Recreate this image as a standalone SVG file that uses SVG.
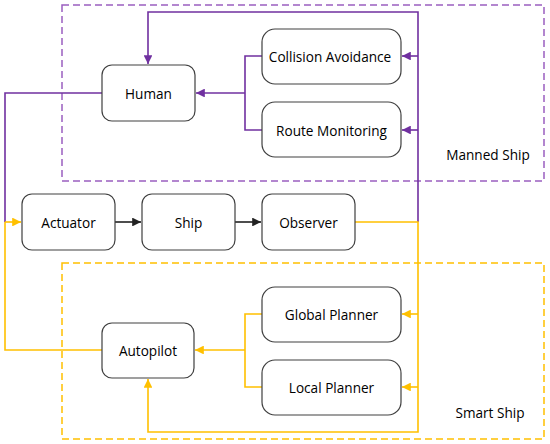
<svg xmlns="http://www.w3.org/2000/svg" width="550" height="444" viewBox="0 0 550 444">
<style>
.node rect{fill:#fff;stroke:#404040;stroke-width:1.2}
text{font-family:"Open Sans","Noto Sans",sans-serif;font-size:13.6px;fill:#000;text-anchor:middle;dominant-baseline:central}
.p{stroke:#7030A0;stroke-width:1.6;fill:none}
.y{stroke:#FFC000;stroke-width:1.6;fill:none}
.k{stroke:#222;stroke-width:1.6;fill:none}
</style>
<defs>
<marker id="ap" viewBox="0 0 10 10" refX="10" refY="5" markerWidth="5.5" markerHeight="5.5" orient="auto" markerUnits="strokeWidth"><path d="M0,0L10,5L0,10z" fill="#7030A0"/></marker>
<marker id="ay" viewBox="0 0 10 10" refX="10" refY="5" markerWidth="5.5" markerHeight="5.5" orient="auto" markerUnits="strokeWidth"><path d="M0,0L10,5L0,10z" fill="#FFC000"/></marker>
<marker id="ak" viewBox="0 0 10 10" refX="10" refY="5" markerWidth="5.5" markerHeight="5.5" orient="auto" markerUnits="strokeWidth"><path d="M0,0L10,5L0,10z" fill="#222"/></marker>
</defs>
<g id="manned-ship">
<rect x="62" y="5" width="482" height="176" fill="none" stroke="#9B5FC0" stroke-width="1.5" stroke-dasharray="7,4"/>
<text x="488" y="154">Manned Ship</text>
</g>
<g id="smart-ship">
<rect x="62" y="263" width="482" height="176" fill="none" stroke="#FFC000" stroke-width="1.5" stroke-dasharray="7,4"/>
<text x="490" y="412">Smart Ship</text>
</g>
<g id="connectors">
<path class="p" d="M418,222V12H148V64" marker-end="url(#ap)"/>
<path class="p" d="M418,56H402" marker-end="url(#ap)"/>
<path class="p" d="M418,130H402" marker-end="url(#ap)"/>
<path class="p" d="M262,56H245V130H262"/>
<path class="p" d="M245,93H196" marker-end="url(#ap)"/>
<path class="p" d="M102,93H5V222"/>
<path class="y" d="M5,222H21" marker-end="url(#ay)"/>
<path class="y" d="M102,350H5V222"/>
<path class="k" d="M115,222H141" marker-end="url(#ak)"/>
<path class="k" d="M235,222H261" marker-end="url(#ak)"/>
<path class="y" d="M355,222H418V432H148V379" marker-end="url(#ay)"/>
<path class="y" d="M418,314H402" marker-end="url(#ay)"/>
<path class="y" d="M418,387H402" marker-end="url(#ay)"/>
<path class="y" d="M262,314H245V387H262"/>
<path class="y" d="M245,350H195" marker-end="url(#ay)"/>
</g>
<g id="human" class="node"><rect x="102" y="65" width="93" height="56" rx="10"/><text x="148.5" y="93">Human</text></g>
<g id="collision-avoidance" class="node"><rect x="262" y="29" width="139" height="55" rx="13"/><text x="330" y="56">Collision Avoidance</text></g>
<g id="route-monitoring" class="node"><rect x="262" y="102" width="139" height="55" rx="13"/><text x="331.5" y="130">Route Monitoring</text></g>
<g id="actuator" class="node"><rect x="22" y="194" width="93" height="56" rx="10"/><text x="68.5" y="222">Actuator</text></g>
<g id="ship" class="node"><rect x="142" y="194" width="93" height="56" rx="10"/><text x="188.5" y="222">Ship</text></g>
<g id="observer" class="node"><rect x="262" y="194" width="93" height="56" rx="10"/><text x="308.5" y="222">Observer</text></g>
<g id="global-planner" class="node"><rect x="262" y="287" width="139" height="55" rx="13"/><text x="331.5" y="314">Global Planner</text></g>
<g id="local-planner" class="node"><rect x="262" y="360" width="139" height="55" rx="13"/><text x="331.5" y="387">Local Planner</text></g>
<g id="autopilot" class="node"><rect x="102" y="323" width="92" height="55" rx="10"/><text x="148" y="350.5">Autopilot</text></g>
</svg>
